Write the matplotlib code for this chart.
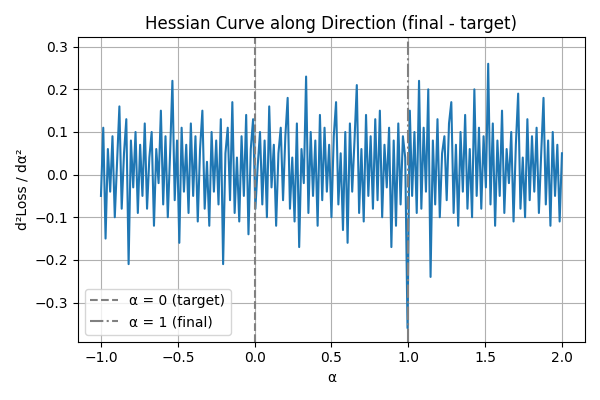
import numpy as np
import matplotlib
matplotlib.use("Agg")
import matplotlib.pyplot as plt

# second derivative, alpha from -1 to 2
hess = [
    -0.05, 0.11, -0.15, 0.06, -0.04, 0.09, -0.10, 0.03, 0.16, -0.08,
    0.05, 0.13, -0.21, 0.08, -0.03, 0.10, -0.09, 0.07, -0.05, 0.12,
    -0.08, 0.04, 0.10, -0.12, 0.06, -0.02, 0.15, -0.07, 0.09, -0.10,
    0.05, 0.22, -0.06, 0.08, -0.16, 0.11, -0.04, 0.07, -0.09, 0.12,
    -0.05, 0.09, -0.11, 0.06, 0.15, -0.08, 0.03, -0.12, 0.10, -0.04,
    0.08, -0.07, 0.13, -0.21, 0.05, 0.11, -0.06, 0.17, -0.09, 0.04,
    -0.11, 0.09, -0.05, 0.14, -0.14, 0.06, 0.13, -0.08, 0.02, 0.10,
    -0.07, 0.08, -0.10, 0.16, -0.03, 0.07, -0.12, 0.05, 0.11, -0.06,
    0.09, 0.18, -0.08, 0.04, -0.11, 0.12, -0.17, 0.06, -0.02, 0.23,
    -0.09, 0.10, -0.05, 0.08, -0.12, 0.14, -0.06, 0.11, -0.04, 0.07,
    -0.10, 0.09, 0.17, -0.07, 0.05, -0.13, 0.10, -0.16, 0.12, -0.04,
    0.08, 0.21, -0.09, 0.06, -0.11, 0.14, -0.05, 0.09, -0.08, 0.13,
    -0.06, 0.15, -0.10, 0.07, -0.03, 0.11, -0.17, 0.08, -0.12, 0.12,
    -0.07, 0.09, 0.04, -0.36, 0.15, -0.05, 0.10, -0.09, 0.22, -0.08,
    0.11, -0.04, 0.20, -0.24, 0.08, -0.07, 0.13, -0.10, 0.05, 0.09,
    -0.06, 0.12, 0.17, -0.09, 0.07, -0.12, 0.10, -0.04, 0.14, -0.08,
    0.06, -0.10, 0.20, -0.05, 0.11, -0.08, 0.09, -0.03, 0.26, -0.07,
    0.12, -0.12, 0.08, -0.05, 0.15, -0.09, 0.06, -0.02, 0.10, -0.11,
    0.07, 0.19, -0.08, 0.04, -0.10, 0.13, -0.06, 0.09, -0.04, 0.11,
    -0.09, 0.05, 0.18, -0.07, 0.08, -0.12, 0.10, -0.05, 0.07, -0.11,
    0.05,
]
alpha = np.linspace(-1, 2, len(hess))

fig, ax = plt.subplots(figsize=(6, 4), dpi=100)
ax.plot(alpha, hess, color="#1f77b4", lw=1.5)
ax.axvline(0, color="gray", ls="--", label="α = 0 (target)")
ax.axvline(1, color="gray", ls="-.", label="α = 1 (final)")
ax.set_ylim(-0.392, 0.322)
ax.set_title("Hessian Curve along Direction (final - target)")
ax.set_xlabel("α")
ax.set_ylabel("d²Loss / dα²")
ax.grid(True)
ax.legend(loc="lower left")
fig.tight_layout()
fig.savefig("out.png")
